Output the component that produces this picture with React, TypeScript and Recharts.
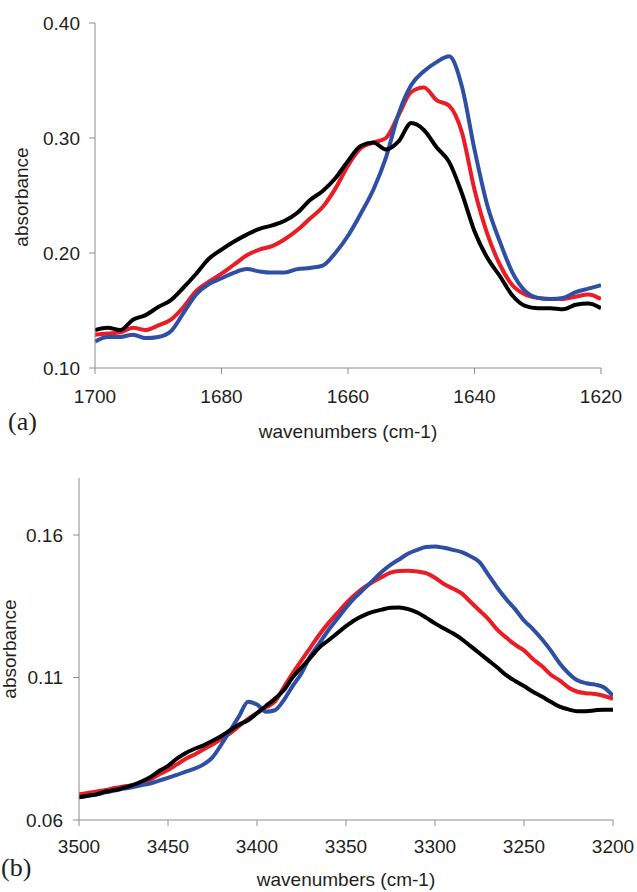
import { LineChart, Line, XAxis, YAxis } from "recharts";

// (a) amide I region
const amideWavenumbers = [
  1700, 1698, 1696, 1694, 1692, 1690, 1688, 1686, 1684, 1682, 1680, 1678, 1676, 1674,
  1672, 1670, 1668, 1666, 1664, 1662, 1660, 1658, 1656, 1654, 1652, 1650, 1648, 1646,
  1644, 1642, 1640, 1638, 1636, 1634, 1632, 1630, 1628, 1626, 1624, 1622, 1620,
];
const amideBlack = [
  0.133, 0.135, 0.133, 0.142, 0.146, 0.153, 0.159, 0.17, 0.182, 0.195, 0.203, 0.21, 0.216, 0.221,
  0.224, 0.228, 0.235, 0.246, 0.254, 0.265, 0.28, 0.293, 0.296, 0.29, 0.297, 0.313, 0.307, 0.292,
  0.279, 0.252, 0.219, 0.196, 0.18, 0.163, 0.154, 0.152, 0.152, 0.151, 0.155, 0.156, 0.152,
];
const amideRed = [
  0.129, 0.13, 0.131, 0.135, 0.133, 0.137, 0.142, 0.153, 0.167, 0.175, 0.182, 0.19, 0.198, 0.203,
  0.206, 0.212, 0.22, 0.23, 0.24, 0.256, 0.276, 0.291, 0.296, 0.3, 0.32, 0.34, 0.344, 0.333,
  0.328, 0.305, 0.255, 0.217, 0.19, 0.172, 0.164, 0.161, 0.16, 0.16, 0.162, 0.164, 0.16,
];
const amideBlue = [
  0.123, 0.127, 0.127, 0.129, 0.126, 0.127, 0.132, 0.148, 0.164, 0.173, 0.178, 0.183, 0.186, 0.184,
  0.183, 0.183, 0.186, 0.187, 0.189, 0.2, 0.215, 0.234, 0.255, 0.283, 0.321, 0.346, 0.358, 0.366,
  0.371, 0.345, 0.29, 0.242, 0.21, 0.183, 0.167, 0.161, 0.16, 0.161, 0.166, 0.169, 0.172,
];
const amideXTicks = [1700, 1680, 1660, 1640, 1620];
const amideYTicks = [0.1, 0.2, 0.3, 0.4];

// (b) N-H stretch region
const nhWavenumbers = [
  3500, 3495, 3490, 3485, 3480, 3475, 3470, 3465, 3460, 3455, 3450, 3445, 3440, 3435, 3430,
  3425, 3420, 3415, 3410, 3405, 3400, 3395, 3390, 3385, 3380, 3375, 3370, 3365, 3360, 3355,
  3350, 3345, 3340, 3335, 3330, 3325, 3320, 3315, 3310, 3305, 3300, 3295, 3290, 3285, 3280,
  3275, 3270, 3265, 3260, 3255, 3250, 3245, 3240, 3235, 3230, 3225, 3220, 3215, 3210, 3205,
  3200,
];
const nhBlack = [
  0.068, 0.0685, 0.069, 0.07, 0.0705, 0.0713, 0.0722, 0.0735, 0.075, 0.0772, 0.079, 0.0815, 0.0835, 0.085, 0.0862,
  0.0878, 0.0895, 0.0915, 0.0935, 0.095, 0.0975, 0.1, 0.1025, 0.1055, 0.11, 0.1135, 0.117, 0.1205, 0.123, 0.1255,
  0.128, 0.1302, 0.1318, 0.133, 0.1338, 0.1345, 0.1346, 0.134, 0.1328, 0.131, 0.129, 0.1272, 0.1255, 0.1235, 0.121,
  0.1185, 0.116, 0.1135, 0.1108, 0.1088, 0.107, 0.105, 0.1033, 0.1015, 0.0998, 0.0988, 0.0982, 0.0982, 0.0985, 0.0987,
  0.0987,
];
const nhRed = [
  0.069, 0.0695, 0.07, 0.0705, 0.0712, 0.0718, 0.0722, 0.073, 0.0742, 0.076, 0.0775, 0.0795, 0.0815, 0.083, 0.0848,
  0.0865, 0.0885, 0.0905, 0.093, 0.0955, 0.0975, 0.0995, 0.1015, 0.1065, 0.1115, 0.116, 0.1205, 0.125, 0.129, 0.1325,
  0.136, 0.139, 0.1415, 0.1435, 0.1452, 0.1468, 0.1474, 0.1475, 0.1472, 0.1466, 0.145, 0.1428, 0.1412, 0.1395, 0.1365,
  0.1335, 0.1305, 0.1268, 0.124, 0.1215, 0.1195, 0.1165, 0.114, 0.111, 0.109, 0.1065, 0.105, 0.1045, 0.1042, 0.1035,
  0.1025,
];
const nhBlue = [
  0.068, 0.0685, 0.069, 0.0697, 0.0703, 0.071, 0.0715, 0.0722, 0.0728, 0.0738, 0.0748, 0.0758, 0.077, 0.078, 0.0795,
  0.082, 0.0865, 0.0915, 0.0965, 0.1015, 0.1005, 0.098, 0.0985, 0.102, 0.107, 0.1115, 0.1175, 0.122, 0.1265, 0.1305,
  0.1345, 0.138, 0.141, 0.144, 0.147, 0.1495, 0.1515, 0.1535, 0.1548, 0.1558, 0.156, 0.1555, 0.1548, 0.154, 0.1525,
  0.1505, 0.146, 0.1415, 0.1375, 0.134, 0.13, 0.127, 0.1235, 0.1195, 0.115, 0.1115, 0.109, 0.108, 0.1075, 0.1065,
  0.1035,
];
const nhXTicks = [3500, 3450, 3400, 3350, 3300, 3250, 3200];
const nhYTicks = [0.06, 0.11, 0.16];

const FONT = '"Liberation Sans", Arial, sans-serif';
const SERIF = '"Liberation Serif", "Times New Roman", serif';
const AXIS = "#8c8c8c";
const INK = "#231f20";
const COLORS = { black: "#000000", red: "#ec1c24", blue: "#2e4fa3" };

const amideRows = amideWavenumbers.map((w, i) => ({
  w,
  black: amideBlack[i],
  red: amideRed[i],
  blue: amideBlue[i],
}));
const nhRows = nhWavenumbers.map((w, i) => ({
  w,
  black: nhBlack[i],
  red: nhRed[i],
  blue: nhBlue[i],
}));

// label positions are in chart pixels; named ax/ay so recharts' own x/y don't override them
function YTitle({ ax, ay }: { ax: number; ay: number }) {
  return (
    <text x={ax} y={ay} transform={`rotate(-90 ${ax} ${ay})`} textAnchor="middle" fontSize={19} fill={INK} fontFamily={FONT}>
      absorbance
    </text>
  );
}

function XTitle({ ax, ay, tag, tagX, tagY }: { ax: number; ay: number; tag: string; tagX: number; tagY: number }) {
  return (
    <g>
      <text x={ax} y={ay} textAnchor="middle" fontSize={19} fill={INK} fontFamily={FONT}>
        wavenumbers (cm-1)
      </text>
      <text x={tagX} y={tagY} fontSize={26} fill={INK} fontFamily={SERIF}>
        {tag}
      </text>
    </g>
  );
}

type PanelProps = {
  rows: { w: number; black: number; red: number; blue: number }[];
  height: number;
  margin: { top: number; right: number; left: number; bottom: number };
  xDomain: [number, number];
  xTicks: number[];
  yDomain: [number, number];
  yTicks: number[];
  yWidth: number;
  xHeight: number;
  yTickMargin: number;
  xTickMargin: number;
  yTitle: { ax: number; ay: number };
  xTitle: { ax: number; ay: number; tag: string; tagX: number; tagY: number };
};

function Panel(p: PanelProps) {
  const tick = { fill: INK, fontSize: 19, fontFamily: FONT };
  return (
    <LineChart width={637} height={p.height} data={p.rows} margin={p.margin}>
      <XAxis
        dataKey="w"
        type="number"
        domain={p.xDomain}
        ticks={p.xTicks}
        reversed
        allowDataOverflow
        interval={0}
        height={p.xHeight}
        stroke={AXIS}
        tickSize={6}
        tickMargin={p.xTickMargin}
        tick={tick}
        label={<XTitle {...p.xTitle} />}
      />
      <YAxis
        type="number"
        domain={p.yDomain}
        ticks={p.yTicks}
        allowDataOverflow
        interval={0}
        width={p.yWidth}
        stroke={AXIS}
        tickSize={6}
        tickMargin={p.yTickMargin}
        tick={tick}
        tickFormatter={(v: number) => v.toFixed(2)}
        label={<YTitle {...p.yTitle} />}
      />
      <Line type="monotone" dataKey="red" stroke={COLORS.red} strokeWidth={4} dot={false} isAnimationActive={false} />
      <Line type="monotone" dataKey="blue" stroke={COLORS.blue} strokeWidth={4} dot={false} isAnimationActive={false} />
      <Line type="monotone" dataKey="black" stroke={COLORS.black} strokeWidth={4} dot={false} isAnimationActive={false} />
    </LineChart>
  );
}

export default function App() {
  return (
    <div style={{ position: "absolute", left: 0, top: 0, width: 637, height: 892, background: "#fff", overflow: "hidden" }}>
      <div style={{ position: "absolute", left: 0, top: 0 }}>
        <Panel
          rows={amideRows}
          height={445}
          margin={{ top: 23, right: 36, left: 0, bottom: 0 }}
          xDomain={[1620, 1700]}
          xTicks={amideXTicks}
          yDomain={[0.1, 0.4]}
          yTicks={amideYTicks}
          yWidth={95}
          xHeight={77}
          yTickMargin={9}
          xTickMargin={16}
          yTitle={{ ax: 28, ay: 197 }}
          xTitle={{ ax: 348, ay: 438, tag: "(a)", tagX: 8, tagY: 430 }}
        />
      </div>
      <div style={{ position: "absolute", left: 0, top: 445 }}>
        <Panel
          rows={nhRows}
          height={447}
          margin={{ top: 33, right: 24, left: 0, bottom: 0 }}
          xDomain={[3200, 3500]}
          xTicks={nhXTicks}
          yDomain={[0.06, 0.18]}
          yTicks={nhYTicks}
          yWidth={79}
          xHeight={72}
          yTickMargin={10}
          xTickMargin={14}
          yTitle={{ ax: 16, ay: 204 }}
          xTitle={{ ax: 346, ay: 441, tag: "(b)", tagX: 1, tagY: 431 }}
        />
      </div>
    </div>
  );
}
